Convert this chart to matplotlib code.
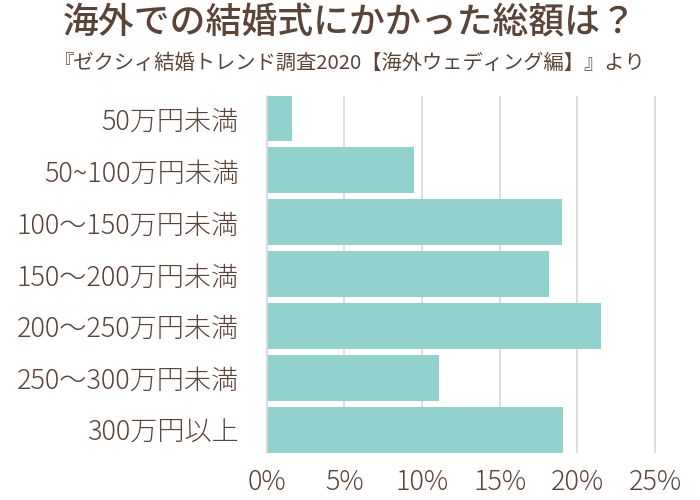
import matplotlib
import matplotlib.pyplot as plt

matplotlib.rcParams['font.family'] = ['Noto Sans CJK JP', 'DejaVu Sans']

# データ（%）
categories = ['50万円未満', '50~100万円未満', '100～150万円未満', '150～200万円未満',
              '200～250万円未満', '250～300万円未満', '300万円以上']
values = [1.6, 9.5, 19.0, 18.2, 21.5, 11.1, 19.1]
xticks = [0, 5, 10, 15, 20, 25]
xtick_labels = ['0%', '5%', '10%', '15%', '20%', '25%']

text_color = '#5b4437'
bar_color = '#91d2cf'
grid_color = '#dcd7d5'

fig = plt.figure(figsize=(7, 5), dpi=100)
ax = fig.add_axes([0.381, 0.094, 0.556, 0.715])

ax.barh(range(len(categories)), values, height=0.88, color=bar_color, zorder=2)

ax.set_xlim(0, 25.05)
ax.set_ylim(6.44, -0.44)
ax.set_xticks(xticks)
ax.set_xticklabels(xtick_labels)
ax.set_yticks(range(len(categories)))
ax.set_yticklabels(categories)

ax.grid(axis='x', color=grid_color, linewidth=1.2, zorder=0)
for s in ['top', 'right', 'bottom']:
    ax.spines[s].set_visible(False)
ax.spines['left'].set_color(grid_color)
ax.spines['left'].set_linewidth(1.2)
ax.spines['left'].set_zorder(3)

ax.tick_params(axis='both', length=0, labelsize=19.5, labelcolor=text_color)
ax.tick_params(axis='y', pad=20)
ax.tick_params(axis='x', pad=11)
for lbl in ax.get_xticklabels() + ax.get_yticklabels():
    lbl.set_fontweight('light')

fig.text(0.5, 0.953, '海外での結婚式にかかった総額は？', ha='center', va='center',
         fontsize=25.8, fontweight='medium', color=text_color)
fig.text(0.5, 0.874, '『ゼクシィ結婚トレンド調査2020【海外ウェディング編】』より',
         ha='center', va='center', fontsize=14.6, fontweight='normal', color=text_color)

fig.savefig('out.png', dpi=100)
